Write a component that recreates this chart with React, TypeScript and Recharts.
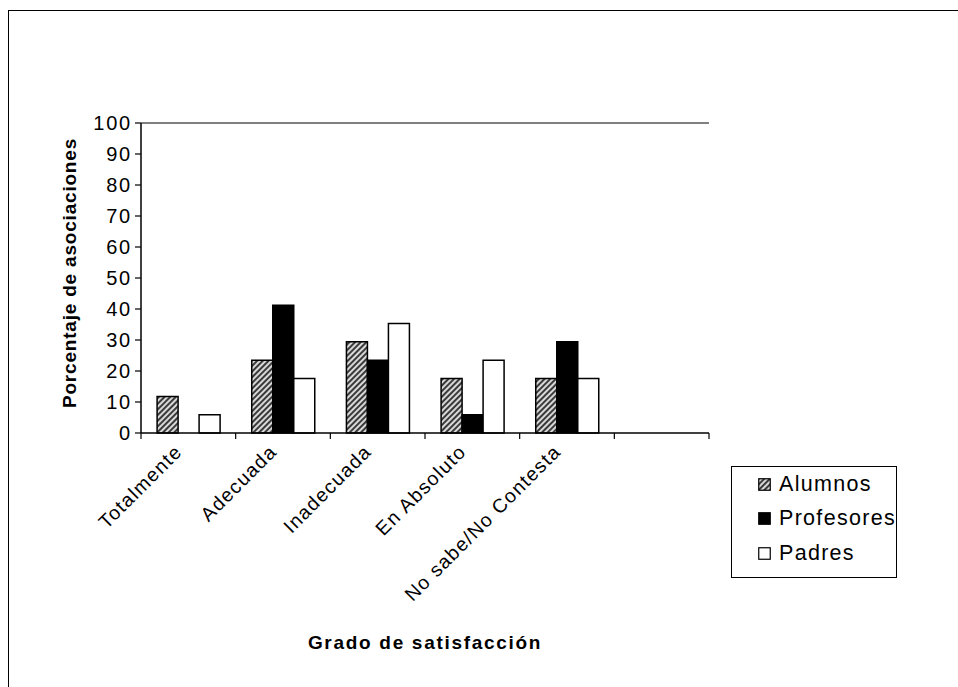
import React from "react";
import { BarChart, Bar, XAxis, YAxis, Legend, ReferenceLine } from "recharts";

const categories = ["Totalmente", "Adecuada", "Inadecuada", "En Absoluto", "No sabe/No Contesta", ""];
const alumnos = [11.8, 23.5, 29.4, 17.6, 17.6, null];
const profesores = [0, 41.2, 23.5, 5.9, 29.4, null];
const padres = [5.9, 17.6, 35.3, 23.5, 17.6, null];
const yTicks = [0, 10, 20, 30, 40, 50, 60, 70, 80, 90, 100];
const seriesNames = ["Alumnos", "Profesores", "Padres"];

const data = categories.map((c, i) => ({
  name: c,
  Alumnos: alumnos[i],
  Profesores: profesores[i],
  Padres: padres[i],
}));

const FONT = "'Liberation Sans', Arial, sans-serif";

const XTick = (props: any) => {
  const { x, y, payload, index, visibleTicksCount } = props;
  const half = payload && payload.offset ? payload.offset : 47.4;
  const axisY = y - 8;
  const ax = x - 5;
  const ay = y + 12;
  const isLast = visibleTicksCount ? index === visibleTicksCount - 1 : payload.value === "";
  return (
    <g>
      <line x1={x - half} x2={x - half} y1={axisY} y2={axisY + 6} stroke="#000" strokeWidth={1.2} />
      {isLast && <line x1={x + half} x2={x + half} y1={axisY} y2={axisY + 6} stroke="#000" strokeWidth={1.2} />}
      <text
        x={ax}
        y={ay}
        transform={`rotate(-45, ${ax}, ${ay})`}
        textAnchor="end"
        fontSize={19.5}
        fontFamily={FONT}
        fill="#000"
        letterSpacing={1.3}
      >
        {payload.value}
      </text>
    </g>
  );
};

const Swatch = ({ kind }: { kind: string }) => (
  <svg width={13} height={13} style={{ marginRight: 8, flex: "none" }}>
    <defs>
      <pattern id="hatchLegend" width="4" height="4" patternUnits="userSpaceOnUse" patternTransform="rotate(45)">
        <rect width="4" height="4" fill="#d8d8d8" />
        <rect width="2" height="4" fill="#3a3a3a" />
      </pattern>
    </defs>
    <rect
      x={0.75}
      y={0.75}
      width={11.5}
      height={11.5}
      fill={kind === "Alumnos" ? "url(#hatchLegend)" : kind === "Profesores" ? "#000" : "#fff"}
      stroke="#000"
      strokeWidth={1.2}
    />
  </svg>
);

const LegendBox = () => (
  <div
    style={{
      boxSizing: "border-box",
      width: 166,
      height: 112,
      border: "1.5px solid #000",
      background: "#fff",
      padding: "0 0 0 26px",
      fontFamily: FONT,
      fontSize: 21.5,
      letterSpacing: 1.3,
      whiteSpace: "nowrap",
    }}
  >
    {seriesNames.map((n) => (
      <div key={n} style={{ display: "flex", alignItems: "center", height: 34.5 }}>
        <Swatch kind={n} />
        <span>{n}</span>
      </div>
    ))}
  </div>
);

export default function App() {
  return (
    <div style={{ position: "absolute", left: 0, top: 0, width: 958, height: 687, background: "#fff" }}>
      <div
        style={{
          position: "absolute",
          left: 8,
          top: 10,
          width: 950,
          height: 677,
          borderLeft: "1.5px solid #000",
          borderTop: "1.5px solid #000",
          boxSizing: "border-box",
        }}
      />
      <div style={{ position: "absolute", left: 0, top: 0 }}>
        <BarChart
          width={958}
          height={687}
          data={data}
          margin={{ top: 123, right: 249, left: 81, bottom: 224 }}
          barCategoryGap="17%"
          barGap={0}
        >
          <defs>
            <pattern id="hatch" width="4" height="4" patternUnits="userSpaceOnUse" patternTransform="rotate(45)">
              <rect width="4" height="4" fill="#d8d8d8" />
              <rect width="2" height="4" fill="#3a3a3a" />
            </pattern>
          </defs>
          <XAxis
            dataKey="name"
            height={30}
            interval={0}
            tick={<XTick />}
            tickSize={6}
            tickLine={false}
            axisLine={{ stroke: "#000", strokeWidth: 1.5 }}
            label={{
              value: "Grado de satisfacción",
              position: "insideBottom",
              dy: 191,
              fontSize: 19,
              fontWeight: "bold",
              fontFamily: FONT,
              fill: "#000",
              letterSpacing: 1.7,
            }}
          />
          <YAxis
            yAxisId="l"
            width={60}
            domain={[0, 100]}
            ticks={yTicks}
            interval={0}
            tickSize={6}
            tickMargin={3}
            axisLine={{ stroke: "#000", strokeWidth: 1.5 }}
            tickLine={{ stroke: "#000", strokeWidth: 1.2 }}
            tick={{ fontSize: 20, fontFamily: FONT, fill: "#000", letterSpacing: 1.8 }}
            label={{
              value: "Porcentaje de asociaciones",
              angle: -90,
              position: "center",
              dx: -42,
              dy: -5,
              fontSize: 19,
              fontWeight: "bold",
              fontFamily: FONT,
              fill: "#000",
              letterSpacing: 0.8,
            }}
          />
          <YAxis
            yAxisId="r"
            orientation="right"
            width={0}
            domain={[0, 100]}
            tick={false}
            tickLine={false}
            axisLine={{ stroke: "#808080", strokeWidth: 2 }}
          />
          <ReferenceLine yAxisId="l" y={100} stroke="#808080" strokeWidth={2} />
          <Legend
            layout="horizontal"
            align="center"
            verticalAlign="middle"
            content={() => <LegendBox />}
            wrapperStyle={{ left: 731, top: 466, width: 166, height: 112 }}
          />
          <Bar yAxisId="l" dataKey="Alumnos" fill="url(#hatch)" stroke="#000" strokeWidth={1.5} isAnimationActive={false} />
          <Bar yAxisId="l" dataKey="Profesores" fill="#000" stroke="#000" strokeWidth={1.5} isAnimationActive={false} />
          <Bar yAxisId="l" dataKey="Padres" fill="#fff" stroke="#000" strokeWidth={1.5} isAnimationActive={false} />
        </BarChart>
      </div>
    </div>
  );
}
